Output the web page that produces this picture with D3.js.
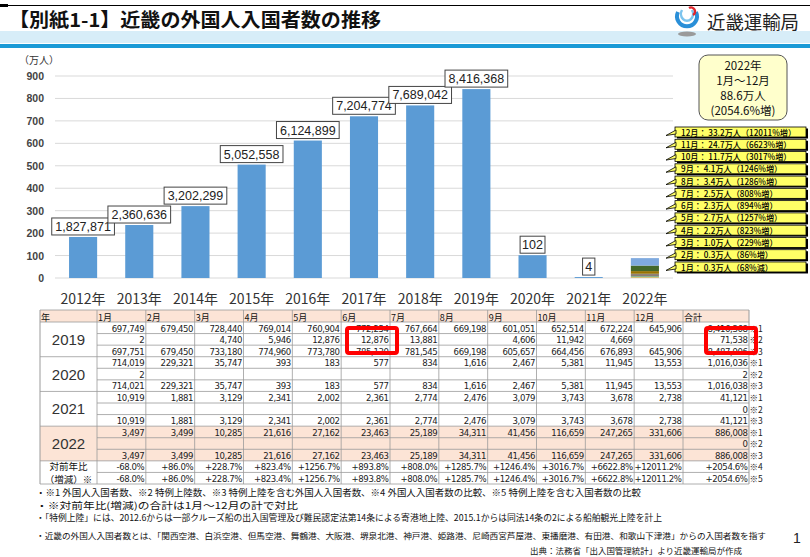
<!DOCTYPE html>
<html>
<head>
<meta charset="utf-8">
<script src="https://cdn.jsdelivr.net/npm/d3@7"></script>
<style>
body { margin: 0; background: #fff; }
svg { display: block; font-family: "Noto Sans CJK JP", "Noto Sans", sans-serif; }
.num { font-family: "Liberation Sans Narrow", "DejaVu Sans Condensed", "Liberation Sans", sans-serif; }
</style>
</head>
<body>
<svg id="chart" width="810" height="557"></svg>
<script>
// chart data
var years = ["2012年", "2013年", "2014年", "2015年", "2016年", "2017年", "2018年", "2019年", "2020年", "2021年", "2022年"];
var totals = [1827871, 2360636, 3202299, 5052558, 6124899, 7204774, 7689042, 8416368, 1016036, 41121, null];
var barLabels = ["1,827,871", "2,360,636", "3,202,299", "5,052,558", "6,124,899", "7,204,774", "7,689,042", "8,416,368", "102", "4", ""];
var yTicks = [0, 100, 200, 300, 400, 500, 600, 700, 800, 900];

var monthNames = ["1月", "2月", "3月", "4月", "5月", "6月", "7月", "8月", "9月", "10月", "11月", "12月"];
var months2022 = [3497, 3499, 10285, 21616, 27162, 23463, 25189, 34311, 41456, 116659, 247265, 331606];
var stackColors = ["#5B9BD5", "#ED7D31", "#A5A5A5", "#FFC000", "#4472C4", "#70AD47", "#255E91", "#9E480E", "#636363", "#997300", "#43682B", "#7FAADF"];
var calloutLabels = ["1月： 0.3万人（68%減）", "2月： 0.3万人（86%増）", "3月： 1.0万人（229%増）", "4月： 2.2万人（823%増）",
  "5月： 2.7万人（1257%増）", "6月： 2.3万人（894%増）", "7月： 2.5万人（808%増）", "8月： 3.4万人（1286%増）",
  "9月： 4.1万人（1246%増）", "10月： 11.7万人（3017%増）", "11月： 24.7万人（6623%増）", "12月： 33.2万人（12011%増）"];
var summaryLines = ["2022年", "1月～12月", "88.6万人", "(2054.6%増)"];

// table data (13 = 12 months + 合計)
var tableYears = ["2019", "2020", "2021", "2022"];
var t2019 = [
  [697749, 679450, 728440, 769014, 760904, 772254, 767664, 669198, 601051, 652514, 672224, 645906, 8416368],
  [2, null, 4740, 5946, 12876, 12876, 13881, null, 4606, 11942, 4669, null, 71538],
  [697751, 679450, 733180, 774960, 773780, 785130, 781545, 669198, 605657, 664456, 676893, 645906, 8487906]
];
var t2020 = [
  [714019, 229321, 35747, 393, 183, 577, 834, 1616, 2467, 5381, 11945, 13553, 1016036],
  [2, null, null, null, null, null, null, null, null, null, null, null, 2],
  [714021, 229321, 35747, 393, 183, 577, 834, 1616, 2467, 5381, 11945, 13553, 1016038]
];
var t2021 = [
  [10919, 1881, 3129, 2341, 2002, 2361, 2774, 2476, 3079, 3743, 3678, 2738, 41121],
  [null, null, null, null, null, null, null, null, null, null, null, null, 0],
  [10919, 1881, 3129, 2341, 2002, 2361, 2774, 2476, 3079, 3743, 3678, 2738, 41121]
];
var t2022 = [
  [3497, 3499, 10285, 21616, 27162, 23463, 25189, 34311, 41456, 116659, 247265, 331606, 886008],
  [null, null, null, null, null, null, null, null, null, null, null, null, 0],
  [3497, 3499, 10285, 21616, 27162, 23463, 25189, 34311, 41456, 116659, 247265, 331606, 886008]
];
var yoyRates = ["-68.0%", "+86.0%", "+228.7%", "+823.4%", "+1256.7%", "+893.8%", "+808.0%", "+1285.7%", "+1246.4%", "+3016.7%", "+6622.8%", "+12011.2%", "+2054.6%"];

var footnotes = [
  "・※1  外国人入国者数、※2  特例上陸数、※3  特例上陸を含む外国人入国者数、※4  外国人入国者数の比較、※5  特例上陸を含む入国者数の比較",
  "・※対前年比(増減)の合計は1月～12月の計で対比",
  "・「特例上陸」には、2012.6からは一部クルーズ船の出入国管理及び難民認定法第14条による寄港地上陸、2015.1からは同法14条の2による船舶観光上陸を計上",
  "・近畿の外国人入国者数とは、「関西空港、白浜空港、但馬空港、舞鶴港、大阪港、堺泉北港、神戸港、姫路港、尼崎西宮芦屋港、東播磨港、有田港、和歌山下津港」からの入国者数を指す"
];

var svg = d3.select("#chart");

// shrink the font until the text fits, then stretch to the exact width
function fitText(sel, target, maxSize) {
  sel.each(function() {
    var t = d3.select(this).attr("font-size", maxSize);
    var len = this.getComputedTextLength();
    if (len > target) {
      t.attr("font-size", maxSize * target / len * 0.98);
    }
    t.attr("textLength", target).attr("lengthAdjust", "spacingAndGlyphs");
  });
}

// ---- header ----
svg.append("rect").attr("x", 0).attr("y", 31).attr("width", 810).attr("height", 12).attr("fill", "#d7edf8");
svg.append("rect").attr("x", 0).attr("y", 44).attr("width", 810).attr("height", 4).attr("fill", "#1a9ad6");
svg.append("line").attr("x1", 0).attr("x2", 810).attr("y1", 5.5).attr("y2", 5.5).attr("stroke", "#000").attr("stroke-width", 1.2);
svg.append("rect").attr("x", 0).attr("y", 4).attr("width", 8).attr("height", 3).attr("fill", "#000");

svg.append("text")
  .attr("x", 9).attr("y", 27)
  .attr("font-size", 19).attr("font-weight", "bold")
  .attr("textLength", 372).attr("lengthAdjust", "spacingAndGlyphs")
  .attr("fill", "#111")
  .text("【別紙1-1】近畿の外国人入国者数の推移");

// logo
var logo = svg.append("g").attr("transform", "translate(687,20)");
logo.append("ellipse").attr("cx", 0).attr("cy", 14).attr("rx", 9).attr("ry", 2.5).attr("fill", "#9a9a9a");
logo.append("path").attr("d", "M-9,-8 A10,10 0 1 0 9,-8").attr("fill", "none").attr("stroke", "#2a8fd8").attr("stroke-width", 4);
logo.append("path").attr("d", "M-5,-10 A6,7 0 1 0 5,-10").attr("fill", "none").attr("stroke", "#7cc4ee").attr("stroke-width", 2.5);
logo.append("path").attr("d", "M2,-12 A4,4 0 0 1 6,-5").attr("fill", "none").attr("stroke", "#e0282e").attr("stroke-width", 2.5);
svg.append("text")
  .attr("x", 707).attr("y", 29)
  .attr("font-size", 18)
  .attr("textLength", 92).attr("lengthAdjust", "spacingAndGlyphs")
  .attr("fill", "#222")
  .text("近畿運輸局");

// ---- bar chart ----
var x = d3.scaleBand().domain(years).range([55, 673]).paddingInner(0.5).paddingOuter(0.25);
var y = d3.scaleLinear().domain([0, 900]).range([278, 76]);

svg.append("g")
  .selectAll("line")
  .data(yTicks)
  .enter()
  .append("line")
  .attr("x1", 55).attr("x2", 673)
  .attr("y1", d => y(d)).attr("y2", d => y(d))
  .attr("stroke", "#d9d9d9").attr("stroke-width", 1);

svg.append("g")
  .selectAll("text")
  .data(yTicks)
  .enter()
  .append("text")
  .attr("x", 44).attr("y", d => y(d) + 4)
  .attr("text-anchor", "end")
  .attr("font-size", 10.5).attr("font-weight", "bold")
  .attr("fill", "#444")
  .attr("font-family", "Liberation Sans, sans-serif")
  .text(d => d);

svg.append("text").attr("x", 19).attr("y", 64).attr("font-size", 10).attr("fill", "#333").text("（万人）");

svg.append("g")
  .selectAll("text")
  .data(years)
  .enter()
  .append("text")
  .attr("x", d => x(d) + x.bandwidth() / 2).attr("y", 304)
  .attr("text-anchor", "middle")
  .attr("font-size", 14)
  .attr("fill", "#333")
  .text(d => d);

var barYears = years.filter((d, i) => totals[i] != null);
svg.append("g")
  .selectAll("rect")
  .data(barYears)
  .enter()
  .append("rect")
  .attr("x", d => x(d))
  .attr("width", x.bandwidth())
  .attr("y", (d, i) => y(totals[i] / 10000))
  .attr("height", (d, i) => y(0) - y(totals[i] / 10000))
  .attr("fill", "#5b9bd5");

// 2022 stacked by month
var stackRow = {};
monthNames.forEach((m, i) => stackRow[m] = months2022[i] / 10000);
var stacked = d3.stack().keys(monthNames)([stackRow]);
svg.append("g")
  .selectAll("rect")
  .data(stacked)
  .enter()
  .append("rect")
  .attr("x", x("2022年"))
  .attr("width", x.bandwidth())
  .attr("y", d => y(d[0][1]))
  .attr("height", d => y(d[0][0]) - y(d[0][1]))
  .attr("fill", (d, i) => stackColors[i]);

// value labels
var lab = svg.append("g")
  .selectAll("g")
  .data(barYears)
  .enter()
  .append("g");
lab.each(function(d, i) {
  var g = d3.select(this);
  var t = barLabels[i];
  var w = t.length * 6.3 + 6;
  var cx = x(d) + x.bandwidth() / 2;
  var top = y(totals[i] / 10000) - 19;
  g.append("rect").attr("x", cx - w / 2).attr("y", top).attr("width", w).attr("height", 17)
    .attr("fill", "#fff").attr("stroke", "#444").attr("stroke-width", 1);
  g.append("text").attr("x", cx).attr("y", top + 13).attr("text-anchor", "middle")
    .attr("font-size", 12.5).attr("fill", "#222").attr("font-family", "Liberation Sans, sans-serif").text(t);
});

// summary box
svg.append("rect").attr("x", 699).attr("y", 55).attr("width", 88).attr("height", 65).attr("rx", 9)
  .attr("fill", "#ffffcc").attr("stroke", "#555").attr("stroke-width", 1);
svg.append("g")
  .selectAll("text")
  .data(summaryLines)
  .enter()
  .append("text")
  .attr("x", 743).attr("y", (d, i) => 70 + i * 15)
  .attr("text-anchor", "middle")
  .attr("font-size", 11.5)
  .attr("fill", "#111")
  .text(d => d);

// callouts (12月 on top)
var callouts = svg.append("g")
  .selectAll("g")
  .data(d3.range(11, -1, -1))
  .enter()
  .append("g")
  .attr("transform", (d, i) => "translate(0," + (127 + i * 12.27) + ")");
callouts.append("rect").attr("x", 677).attr("y", 1.5).attr("width", 131).attr("height", 10).attr("fill", "#000");
callouts.append("rect").attr("x", 675).attr("y", 0).attr("width", 131).attr("height", 10)
  .attr("fill", "#ffff66").attr("stroke", "#000").attr("stroke-width", 0.8);
callouts.append("path").attr("d", "M676,3 L666,8.5 L676,7 Z")
  .attr("fill", "#ffff66").attr("stroke", "#000").attr("stroke-width", 0.8);
callouts.append("text")
  .attr("x", 681).attr("y", 8.6)
  .attr("font-size", 8.4).attr("font-weight", 500)
  .attr("fill", "#000")
  .text(d => calloutLabels[d])
  .each(function() {
    var len = this.getComputedTextLength();
    d3.select(this).attr("textLength", len * 0.97).attr("lengthAdjust", "spacingAndGlyphs");
  });

// ---- table ----
var cols = ["年"].concat(monthNames).concat(["合計"]);
var monthX = d3.scaleBand().domain(monthNames).range([97, 683]);
function colX(i) { return i === 0 ? 40 : i <= 12 ? monthX(monthNames[i - 1]) : 683; }
function colW(i) { return i === 0 ? 57 : i <= 12 ? monthX.bandwidth() : 66; }

var tableRows = [];
[t2019, t2020, t2021, t2022].forEach(function(block, b) {
  block.forEach(function(r, k) {
    tableRows.push({ vals: r.map(v => v == null ? "" : d3.format(",")(v)), note: "※" + (k + 1), block: b });
  });
});
tableRows.push({ vals: yoyRates, note: "※4", block: 4 });
tableRows.push({ vals: yoyRates, note: "※5", block: 4 });

var rowY = d3.scaleBand().domain(d3.range(tableRows.length)).range([322, 484]);
var rh = rowY.bandwidth();
var tbl = svg.append("g");

// backgrounds
tbl.append("rect").attr("x", 40).attr("y", 310).attr("width", 709).attr("height", 12).attr("fill", "#fce4d6");
tbl.append("rect").attr("x", 40).attr("y", rowY(9)).attr("width", 709).attr("height", rh * 3).attr("fill", "#fce4d6");

// header text
tbl.selectAll("text.hd")
  .data(cols)
  .enter()
  .append("text")
  .attr("class", "hd")
  .attr("x", (d, i) => colX(i) + 1).attr("y", 320.5)
  .attr("font-size", 9).attr("fill", "#111")
  .text(d => d);

// horizontal lines
d3.range(tableRows.length + 1).forEach(function(r) {
  var yy = r < tableRows.length ? rowY(r) : 484;
  var blockEdge = r % 3 === 0 || r >= 12;
  var inner = r === 13;
  tbl.append("line").attr("x1", blockEdge && !inner ? 40 : 97).attr("x2", 749)
    .attr("y1", yy).attr("y2", yy).attr("stroke", "#9a9a9a").attr("stroke-width", 0.8);
});
tbl.append("line").attr("x1", 40).attr("x2", 749).attr("y1", 310).attr("y2", 310).attr("stroke", "#9a9a9a").attr("stroke-width", 0.8);

// vertical lines
d3.range(cols.length + 1).forEach(function(i) {
  var xx = i < cols.length ? colX(i) : 749;
  tbl.append("line").attr("x1", xx).attr("x2", xx).attr("y1", 310).attr("y2", 484)
    .attr("stroke", "#9a9a9a").attr("stroke-width", i === 0 || i === cols.length ? 1 : 0.8);
});

// values
tableRows.forEach(function(row, r) {
  row.vals.forEach(function(v, c) {
    tbl.append("text")
      .attr("class", "num")
      .attr("x", colX(c + 1) + colW(c + 1) - 1.5)
      .attr("y", rowY(r) + rh - 2)
      .attr("text-anchor", "end")
      .attr("font-size", 9.5).attr("letter-spacing", -0.4)
      .attr("fill", "#222")
      .text(v);
  });
  tbl.append("text")
    .attr("x", 749.5).attr("y", rowY(r) + rh - 2)
    .attr("font-size", 8.5).attr("fill", "#222")
    .text(row.note);
});

// year labels
tableYears.forEach(function(yr, b) {
  tbl.append("text")
    .attr("x", 68.5).attr("y", rowY(b * 3) + rh * 1.5 + 5.5)
    .attr("text-anchor", "middle")
    .attr("font-size", 15).attr("fill", "#333")
    .attr("font-family", "Liberation Sans, sans-serif")
    .text(yr);
});
tbl.append("text").attr("x", 68.5).attr("y", rowY(12) + rh - 2.5).attr("text-anchor", "middle").attr("font-size", 9.5).attr("fill", "#111").text("対前年比");
tbl.append("text").attr("x", 68.5).attr("y", rowY(13) + rh - 0.8).attr("text-anchor", "middle").attr("font-size", 9.5).attr("fill", "#111").text("（増減）※");

// red highlight boxes
var hl = [[6, 1], [13, 1]];
hl.forEach(function(h) {
  var x0 = colX(h[0]) + colW(h[0]) - 43;
  tbl.append("rect")
    .attr("x", x0).attr("y", rowY(h[1]) - 5.5)
    .attr("width", 50).attr("height", 25)
    .attr("rx", 2)
    .attr("fill", "none").attr("stroke", "#ff0000").attr("stroke-width", 4);
});

// ---- footnotes ----
var fnY = [496, 508.5, 521, 538.5];
var fnLen = [605, 262, 626, 730];
svg.append("g")
  .selectAll("text")
  .data(footnotes)
  .enter()
  .append("text")
  .attr("x", 36).attr("y", (d, i) => fnY[i])
  .attr("fill", "#111")
  .text(d => d)
  .each(function(d, i) { fitText(d3.select(this), fnLen[i], 9.5); });

fitText(svg.append("text").attr("x", 530).attr("y", 554).attr("fill", "#111")
  .text("出典：法務省「出入国管理統計」より近畿運輸局が作成"), 212, 9.5);
svg.append("text").attr("x", 793).attr("y", 543).attr("font-size", 14).attr("fill", "#222")
  .attr("font-family", "Liberation Sans, sans-serif").text("1");
</script>
</body>
</html>
